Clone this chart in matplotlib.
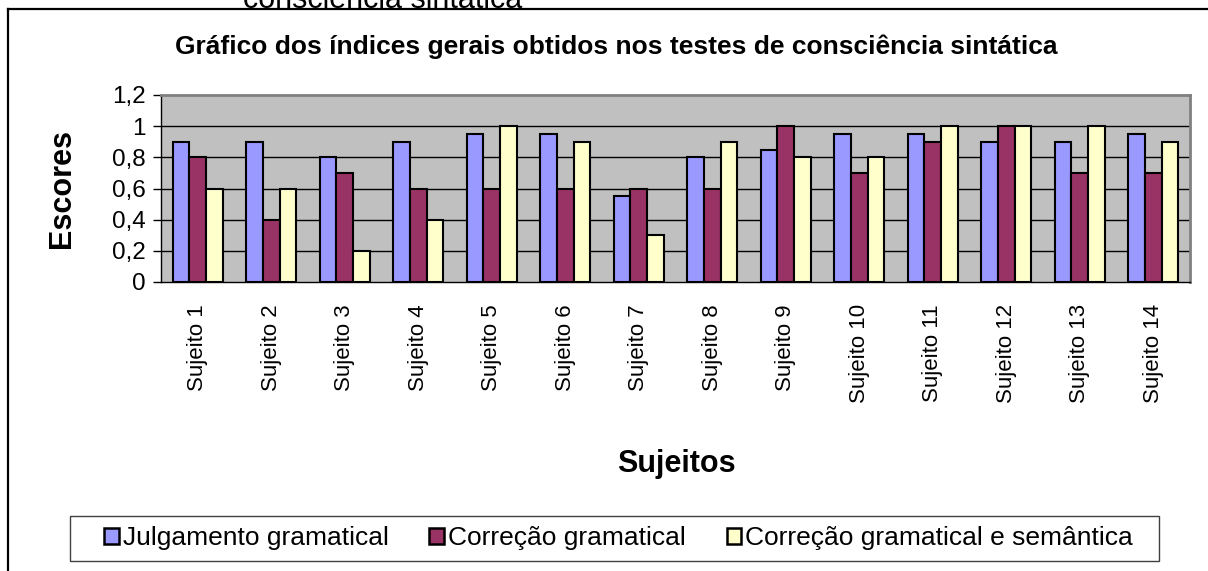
import numpy as np
import matplotlib
matplotlib.use('Agg')
import matplotlib.pyplot as plt
from matplotlib.patches import Patch, Rectangle
from matplotlib.lines import Line2D

plt.rcParams['font.family'] = ['Liberation Sans', 'DejaVu Sans']

sujeitos = ['Sujeito %d' % i for i in range(1, 15)]
julgamento = [0.9, 0.9, 0.8, 0.9, 0.95, 0.95, 0.55, 0.8, 0.85, 0.95, 0.95, 0.9, 0.9, 0.95]
correcao = [0.8, 0.4, 0.7, 0.6, 0.6, 0.6, 0.6, 0.6, 1.0, 0.7, 0.9, 1.0, 0.7, 0.7]
correcao_sem = [0.6, 0.6, 0.2, 0.4, 1.0, 0.9, 0.3, 0.9, 0.8, 0.8, 1.0, 1.0, 1.0, 0.9]
series_names = ['Julgamento gramatical', 'Correção gramatical', 'Correção gramatical e semântica']
colors = ['#9999FF', '#993366', '#FFFFCC']
yticks = [0, 0.2, 0.4, 0.6, 0.8, 1.0, 1.2]
ytick_labels = ['0', '0,2', '0,4', '0,6', '0,8', '1', '1,2']

W, H = 1208, 571
fig = plt.figure(figsize=(W / 100, H / 100), dpi=100)

# outer frame (only top and left edges visible in the crop)
fig.add_artist(Line2D([8 / W, 8 / W], [0, 1 - 9 / H], color='black', lw=1.6, transform=fig.transFigure))
fig.add_artist(Line2D([8 / W, 1], [1 - 9 / H, 1 - 9 / H], color='black', lw=1.6, transform=fig.transFigure))

# caption of the page above, cut by the top edge as in the source
fig.text(383 / W, 1 - 8 / H, 'consciência sintática', ha='center', va='baseline', fontsize=22)

fig.text(616 / W, 1 - 47 / H, 'Gráfico dos índices gerais obtidos nos testes de consciência sintática',
         ha='center', va='center', fontsize=19, fontweight='bold')

ax = fig.add_axes([161 / W, 1 - 282 / H, (1190 - 161) / W, (282 - 95) / H])
ax.set_facecolor('#C0C0C0')

x = np.arange(len(sujeitos))
w = 0.225
for i, (vals, c) in enumerate(zip([julgamento, correcao, correcao_sem], colors)):
    ax.bar(x + (i - 1) * w, vals, w, color=c, edgecolor='black', linewidth=1.5, zorder=3)

ax.set_xlim(-0.5, len(sujeitos) - 0.5)
ax.set_ylim(0, 1.2)
ax.set_yticks(yticks)
ax.set_yticklabels(ytick_labels, fontsize=17.5)
for yv in yticks[1:-1]:
    ax.axhline(yv, color='black', lw=1, zorder=1)

ax.set_xticks(x)
ax.set_xticklabels(sujeitos, rotation=90, fontsize=16, va='top')
ax.tick_params(axis='x', length=0, pad=16)
ax.tick_params(axis='y', length=6, width=1, direction='out', pad=5)

for s in ['top', 'right']:
    ax.spines[s].set_color('#808080')
    ax.spines[s].set_linewidth(2)
for s in ['left', 'bottom']:
    ax.spines[s].set_color('black')
    ax.spines[s].set_linewidth(1)

fig.text(62 / W, 1 - 188 / H, 'Escores', rotation=90, ha='center', va='center',
         fontsize=22, fontweight='bold')
fig.text(676 / W, 1 - 464 / H, 'Sujeitos', ha='center', va='center',
         fontsize=22, fontweight='bold')

# legend box drawn separately so its padding matches the source
fig.add_artist(Rectangle((70 / W, 1 - 561 / H), 1089 / W, 45 / H, transform=fig.transFigure,
                         fill=True, facecolor='white', edgecolor='#404040', linewidth=1))
handles = [Patch(facecolor=c, edgecolor='black', linewidth=1.8) for c in colors]
leg = fig.legend(handles, series_names, loc='center', ncol=3,
                 bbox_to_anchor=(618.5 / W, 1 - 538.5 / H), fontsize=19,
                 frameon=False, handlelength=0.55, handleheight=0.55,
                 handletextpad=0.15, columnspacing=1.55, borderpad=0, borderaxespad=0)

fig.savefig('out.png', dpi=100)
